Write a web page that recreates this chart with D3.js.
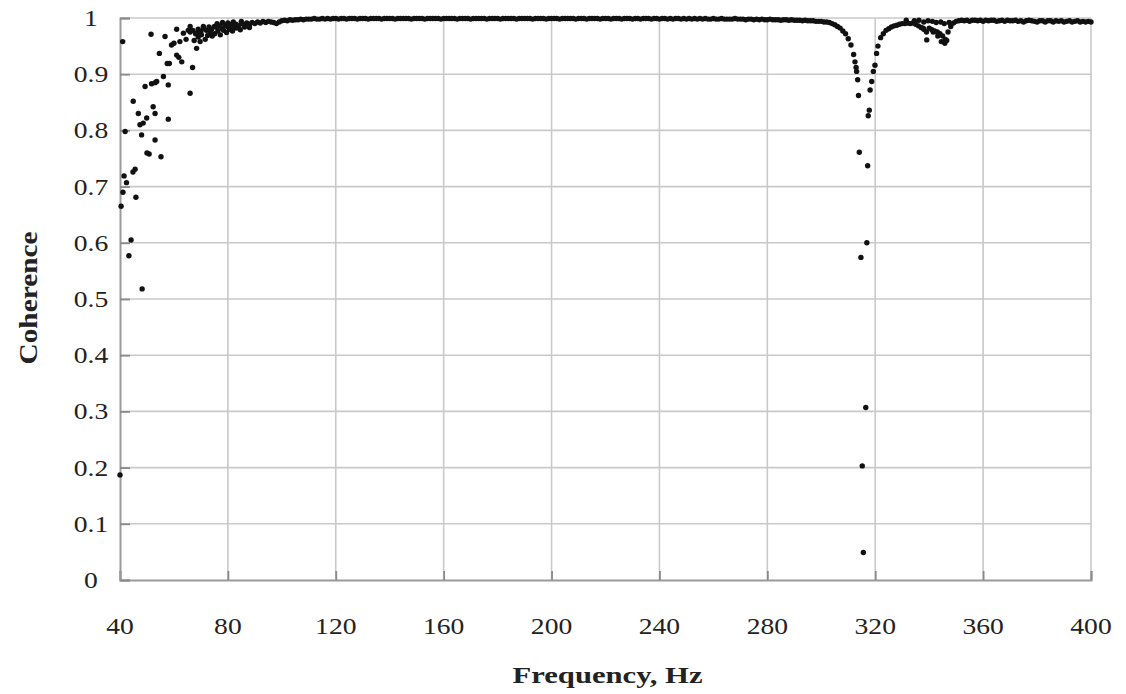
<!DOCTYPE html>
<html>
<head>
<meta charset="utf-8">
<script src="https://cdn.jsdelivr.net/npm/d3@7"></script>
<style>
  html, body { margin: 0; padding: 0; background: #fff; }
  svg { display: block; }
  text { font-family: "Liberation Serif", "Times New Roman", serif; fill: #222; }
</style>
</head>
<body>
<svg id="chart" width="1126" height="694"></svg>
<script>
// ---------------- data ----------------
const xTicks = [40, 80, 120, 160, 200, 240, 280, 320, 360, 400];
const yTicks = [0, 0.1, 0.2, 0.3, 0.4, 0.5, 0.6, 0.7, 0.8, 0.9, 1];
const yTickLabels = ["0", "0.1", "0.2", "0.3", "0.4", "0.5", "0.6", "0.7", "0.8", "0.9", "1"];
const xTitle = "Frequency, Hz";
const yTitle = "Coherence";

// low-frequency scattered points [Hz, coherence]
const lowFreqPoints = [
  [40.0,0.187],[41.0,0.958],[40.4,0.665],[41.1,0.690],[41.5,0.719],[42.4,0.707],[41.9,0.798],
  [43.3,0.577],[44.1,0.605],[44.8,0.726],[45.6,0.731],[45.9,0.681],[44.9,0.852],[46.8,0.830],
  [47.4,0.810],[48.0,0.792],[48.6,0.813],[48.2,0.518],[49.3,0.878],[49.9,0.822],[50.0,0.760],
  [50.8,0.758],[51.5,0.971],[51.7,0.883],[52.3,0.842],[53.0,0.830],[53.0,0.783],[53.0,0.885],
  [53.6,0.887],[54.6,0.937],[55.2,0.753],[56.1,0.896],[56.7,0.967],[57.5,0.919],[58.3,0.919],
  [57.9,0.881],[57.9,0.820],[59.1,0.952],[60.0,0.955],[61.0,0.980],[61.0,0.934],[61.8,0.930],
  [62.2,0.958],[62.9,0.922],[63.5,0.973],[64.5,0.962],[65.3,0.978],[66.0,0.985],[66.0,0.866],
  [66.9,0.912],[67.5,0.960],[68.4,0.946],[68.4,0.973],[69.0,0.966],[69.7,0.958],[70.2,0.970],
  [70.9,0.985],[71.6,0.962],[72.5,0.969],[73.4,0.975],[74.2,0.968],[75.1,0.972],[76.3,0.977],
  [77.2,0.970],[78.4,0.978],[79.5,0.974],[80.6,0.980],[81.7,0.977],[83.1,0.982],[84.6,0.979],
  [86.2,0.984],[88.0,0.983],[76.0,0.990],[78.0,0.992],[80.0,0.991],[82.0,0.993],[85.0,0.994]
];

// main trace, 1 Hz spacing, first segment starts at 66 Hz
const trace1Start = 66;
const trace1 = [
  0.975,0.978,0.972,0.980,0.976,0.982,0.978,0.984,0.980,0.985,   // 66-75
  0.983,0.986,0.981,0.987,0.984,0.988,0.985,0.989,0.986,0.990,   // 76-85
  0.988,0.991,0.989,0.992,0.990,0.993,0.991,0.994,0.992,0.994,   // 86-95
  0.993,0.992,0.990,0.993,0.995,0.996,0.995,0.997,0.996,0.997,   // 96-105
  0.997,0.998,0.997,0.998,0.998,0.998,0.999,0.998,0.998,0.999,   // 106-115
  0.998,0.999,0.998,0.999,0.999,0.998,0.999,0.999,0.998,0.999,   // 116-125
  0.999,0.999,0.998,0.999,0.999,0.999,0.998,0.999,0.999,0.999,   // 126-135
  0.999,0.998,0.999,0.999,0.999,0.999,0.998,0.999,0.999,0.999,   // 136-145
  0.999,0.999,0.998,0.999,0.999,0.999,0.999,0.998,0.999,0.999,   // 146-155
  0.999,0.999,0.999,0.998,0.999,0.999,0.999,0.999,0.999,0.998,   // 156-165
  0.999,0.999,0.999,0.999,0.998,0.999,0.999,0.999,0.999,0.999,   // 166-175
  0.998,0.999,0.999,0.999,0.999,0.998,0.999,0.999,0.999,0.999,   // 176-185
  0.999,0.998,0.999,0.999,0.999,0.999,0.999,0.998,0.999,0.999,   // 186-195
  0.999,0.999,0.998,0.999,0.999,0.999,0.999,0.998,0.999,0.999,   // 196-205
  0.999,0.999,0.999,0.998,0.999,0.999,0.999,0.998,0.999,0.999,   // 206-215
  0.999,0.999,0.998,0.999,0.999,0.999,0.998,0.999,0.999,0.999,   // 216-225
  0.998,0.999,0.999,0.999,0.998,0.999,0.999,0.998,0.999,0.999,   // 226-235
  0.999,0.998,0.999,0.999,0.998,0.999,0.999,0.998,0.999,0.998,   // 236-245
  0.999,0.999,0.998,0.999,0.998,0.999,0.998,0.999,0.998,0.999,   // 246-255
  0.998,0.999,0.998,0.998,0.999,0.998,0.998,0.999,0.998,0.998,   // 256-265
  0.998,0.998,0.999,0.998,0.998,0.998,0.997,0.998,0.998,0.997,   // 266-275
  0.998,0.997,0.998,0.997,0.997,0.998,0.997,0.997,0.997,0.996,   // 276-285
  0.997,0.997,0.996,0.997,0.996,0.996,0.996,0.995,0.996,0.995,   // 286-295
  0.995,0.995,0.994,0.994,0.994,0.993,0.993,0.992,0.990,0.988,   // 296-305
  0.985,0.982,0.977,0.972,0.963,0.952,0.935                      // 306-312
];

// dip around 315 Hz [Hz, coherence]
const dipPoints = [
  [312.5,0.922],[312.9,0.912],[313.1,0.905],[313.5,0.890],[313.8,0.862],[314.1,0.761],
  [314.7,0.574],[315.2,0.203],[315.6,0.049],[316.5,0.307],[316.9,0.600],[317.2,0.737],
  [317.4,0.826],[317.8,0.836],[318.1,0.872],[318.7,0.887],[319.3,0.905],[319.9,0.916],
  [320.5,0.937]
];

// recovery after the dip, 1 Hz spacing from 321 Hz
const trace2Start = 321;
const trace2 = [
  0.950,0.965,0.972,0.978,0.981,0.984,0.986,0.987,0.989,0.990,   // 321-330
  0.990,0.991,0.990,0.991,0.989,0.986,0.983,0.980,0.975,0.982,   // 331-340
  0.979,0.977,0.975,0.972,0.968,0.962,0.975,0.985,0.991,0.994,   // 341-350
  0.995,0.996,0.995,0.996,0.994,0.996,0.996,0.995,0.996,0.994,   // 351-360
  0.996,0.995,0.996,0.996,0.994,0.995,0.996,0.994,0.996,0.995,   // 361-370
  0.995,0.996,0.994,0.995,0.993,0.995,0.996,0.995,0.994,0.993,   // 371-380
  0.995,0.995,0.993,0.995,0.995,0.993,0.995,0.994,0.995,0.993,   // 381-390
  0.994,0.995,0.993,0.994,0.995,0.993,0.994,0.993,0.994,0.993    // 391-400
];

// extra scatter in the 330-350 Hz band [Hz, coherence]
const midBandPoints = [
  [331.5,0.996],[334.5,0.995],[336.2,0.996],[338.0,0.993],[339.6,0.995],[341.2,0.994],
  [342.6,0.992],[344.3,0.993],[345.6,0.990],[347.4,0.992],[337.8,0.982],[339.1,0.961],
  [344.5,0.958],[345.8,0.955],[346.5,0.960],[343.2,0.968],[341.5,0.975]
];

// ---------------- chart ----------------
const svg = d3.select("#chart");
const margin = { left: 120, right: 1126 - 1091, top: 18, bottom: 694 - 580 };
const W = 1126, H = 694;
const x = d3.scaleLinear().domain([40, 400]).range([margin.left, W - margin.right]);
const y = d3.scaleLinear().domain([0, 1]).range([H - margin.bottom, margin.top]);

const gridColor = "#c9c9c9";
const axisColor = "#9a9a9a";

// gridlines
svg.append("g")
  .selectAll("line.v")
  .data(xTicks.slice(1))
  .join("line")
  .attr("x1", d => x(d)).attr("x2", d => x(d))
  .attr("y1", y(1)).attr("y2", y(0))
  .attr("stroke", gridColor).attr("stroke-width", 1.6);

svg.append("g")
  .selectAll("line.h")
  .data(yTicks.slice(1))
  .join("line")
  .attr("x1", x(40)).attr("x2", x(400))
  .attr("y1", d => y(d)).attr("y2", d => y(d))
  .attr("stroke", gridColor).attr("stroke-width", 1.6);

// axes with inward ticks
const xAxis = d3.axisBottom(x).tickValues(xTicks).tickSize(-9).tickFormat("");
const yAxis = d3.axisLeft(y).tickValues(yTicks).tickSize(-10).tickFormat("");

const gx = svg.append("g").attr("transform", `translate(0,${y(0)})`).call(xAxis);
const gy = svg.append("g").attr("transform", `translate(${x(40)},0)`).call(yAxis);
[gx, gy].forEach(g => {
  g.select(".domain").attr("stroke", axisColor).attr("stroke-width", 2);
  g.selectAll(".tick line").attr("stroke", "#8a8a8a").attr("stroke-width", 1.8);
});

// tick labels (stretched serif, as in the reference)
svg.append("g")
  .selectAll("text")
  .data(xTicks)
  .join("text")
  .attr("transform", d => `translate(${x(d)},634) scale(1.15,1)`)
  .attr("text-anchor", "middle")
  .style("font-size", "24px")
  .text(d => d);

svg.append("g")
  .selectAll("text")
  .data(yTicks)
  .join("text")
  .attr("transform", (d, i) => `translate(91,${y(d) + 8}) scale(1.15,1)`)
  .attr("text-anchor", "middle")
  .style("font-size", "24px")
  .text((d, i) => yTickLabels[i]);

// axis titles
svg.append("text")
  .attr("x", (x(40) + x(400)) / 2 + 2)
  .attr("y", 683)
  .attr("text-anchor", "middle")
  .attr("textLength", 190)
  .attr("lengthAdjust", "spacingAndGlyphs")
  .style("font-size", "24px")
  .style("font-weight", "bold")
  .text(xTitle);

svg.append("text")
  .attr("transform", "translate(37,298) rotate(-90)")
  .attr("text-anchor", "middle")
  .attr("textLength", 133)
  .attr("lengthAdjust", "spacingAndGlyphs")
  .style("font-size", "25px")
  .style("font-weight", "bold")
  .text(yTitle);

// points
const pts = [];
lowFreqPoints.forEach(p => pts.push(p));
trace1.forEach((v, i) => pts.push([trace1Start + i, v]));
dipPoints.forEach(p => pts.push(p));
trace2.forEach((v, i) => pts.push([trace2Start + i, v]));
midBandPoints.forEach(p => pts.push(p));

svg.append("g")
  .selectAll("circle")
  .data(pts)
  .join("circle")
  .attr("cx", d => x(d[0]))
  .attr("cy", d => y(d[1]))
  .attr("r", 2.7)
  .attr("fill", "#111");
</script>
</body>
</html>
